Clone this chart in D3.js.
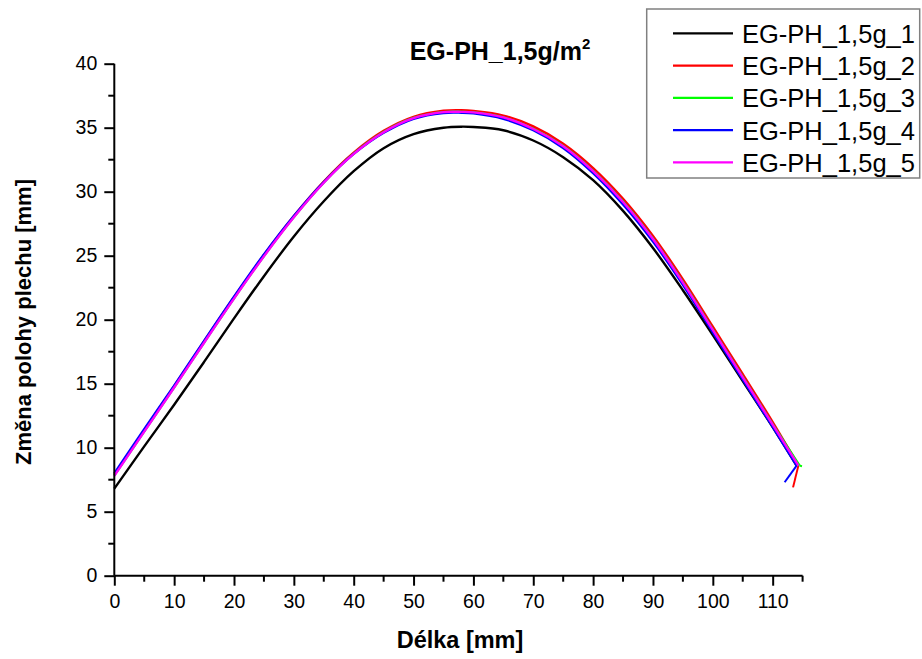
<!DOCTYPE html>
<html>
<head>
<meta charset="utf-8">
<script src="https://cdn.jsdelivr.net/npm/d3@7"></script>
<style>
  html, body { margin: 0; padding: 0; background: #fff; }
  svg { display: block; font-family: "Liberation Sans", Arial, sans-serif; }
</style>
</head>
<body>
<svg id="chart" width="922" height="659"></svg>
<script>
// ---------------- data ----------------
const titleMain = "EG-PH_1,5g/m";
const titleSup = "2";
const xLabel = "Délka [mm]";
const yLabel = "Změna polohy plechu [mm]";
const seriesNames = ["EG-PH_1,5g_1", "EG-PH_1,5g_2", "EG-PH_1,5g_3", "EG-PH_1,5g_4", "EG-PH_1,5g_5"];
const seriesColors = ["#000000", "#ff0000", "#00ff00", "#0000ff", "#ff00ff"];
const xTicks = [0, 10, 20, 30, 40, 50, 60, 70, 80, 90, 100, 110];
const yTicks = [0, 5, 10, 15, 20, 25, 30, 35, 40];

const lengthMm = [0, 5, 10, 15, 20, 25, 30, 35, 40, 45, 50, 55, 58, 60, 65, 70, 75, 80, 85, 90, 95, 100, 105, 110];

const series1 = [6.8, 10.1, 13.35, 16.7, 20.1, 23.4, 26.5, 29.25, 31.6, 33.4, 34.5, 35.0, 35.08, 35.05, 34.8, 34.0, 32.7, 30.9, 28.5, 25.6, 22.3, 18.8, 15.2, 11.6];
const series2 = [7.9, 11.35, 14.8, 18.3, 21.75, 25.05, 28.1, 30.8, 33.05, 34.75, 35.85, 36.32, 36.36, 36.3, 35.95, 35.1, 33.75, 31.85, 29.45, 26.55, 23.15, 19.45, 15.75, 12.0];
const series3 = [7.85, 11.28, 14.72, 18.22, 21.68, 24.98, 28.02, 30.72, 32.97, 34.66, 35.76, 36.22, 36.24, 36.2, 35.81, 34.92, 33.57, 31.63, 29.23, 26.33, 22.93, 19.23, 15.53, 11.83];
const series4 = [8.0, 11.45, 14.85, 18.35, 21.8, 25.1, 28.1, 30.75, 32.95, 34.6, 35.7, 36.15, 36.17, 36.12, 35.7, 34.8, 33.42, 31.45, 29.0, 26.1, 22.72, 19.02, 15.32, 11.62];
const series5 = [7.8, 11.25, 14.7, 18.2, 21.65, 24.95, 28.0, 30.7, 32.95, 34.65, 35.75, 36.22, 36.24, 36.2, 35.8, 34.9, 33.55, 31.6, 29.2, 26.3, 22.9, 19.2, 15.5, 11.8];

// final points of each record (x, y), including the short return tails
const ends1 = [[114.0, 8.6]];
const ends2 = [[114.3, 8.6], [113.4, 6.9]];
const ends3 = [[114.5, 8.6], [114.9, 8.55]];
const ends4 = [[114.0, 8.6], [112.0, 7.3]];
const ends5 = [[114.3, 8.6]];

const allSeries = [series1, series2, series3, series4, series5];
const allEnds = [ends1, ends2, ends3, ends4, ends5];

// ---------------- layout ----------------
const svg = d3.select("#chart");
svg.append("rect").attr("width", 922).attr("height", 659).attr("fill", "#fff");

const x = d3.scaleLinear().domain([0, 115]).range([114.3, 802.6]);
const y = d3.scaleLinear().domain([0, 40]).range([575.7, 63.7]);

// curves
const smooth = d3.line().x(d => x(d[0])).y(d => y(d[1])).curve(d3.curveCatmullRom.alpha(0.5));
const straight = d3.line().x(d => x(d[0])).y(d => y(d[1]));

const plot = svg.append("g");
allSeries.forEach((vals, i) => {
  const pts = lengthMm.map((lx, k) => [lx, vals[k]]);
  const ends = allEnds[i];
  pts.push(ends[0]);
  plot.append("path").attr("d", smooth(pts)).attr("fill", "none")
    .attr("stroke", seriesColors[i]).attr("stroke-width", 2.4).attr("stroke-linejoin", "round");
  if (ends.length > 1) {
    plot.append("path").attr("d", straight(ends)).attr("fill", "none")
      .attr("stroke", seriesColors[i]).attr("stroke-width", 2);
  }
});

// axes
const xAxis = svg.append("g").attr("transform", `translate(0,${y(0)})`)
  .call(d3.axisBottom(x).tickValues(xTicks).tickSize(10).tickPadding(8).tickFormat(d3.format("d")));
xAxis.select(".domain").attr("d", `M${x(0)},0H${x(115)}`).attr("stroke-width", 2);
xAxis.selectAll(".tick line").attr("stroke-width", 2);
xAxis.selectAll("text").attr("font-size", "19.5px").attr("fill", "#000")
  .attr("font-family", "'Liberation Sans', Arial, sans-serif");
xAxis.selectAll(".minor").data(d3.range(5, 116, 10)).enter().append("line")
  .attr("x1", d => x(d)).attr("x2", d => x(d)).attr("y1", 0).attr("y2", 6)
  .attr("stroke", "#000").attr("stroke-width", 2);

const yAxis = svg.append("g").attr("transform", `translate(${x(0)},0)`)
  .call(d3.axisLeft(y).tickValues(yTicks).tickSize(10).tickPadding(7).tickFormat(d3.format("d")));
yAxis.select(".domain").attr("d", `M0,${y(0)}V${y(40)}`).attr("stroke-width", 2);
yAxis.selectAll(".tick line").attr("stroke-width", 2);
yAxis.selectAll("text").attr("font-size", "19.5px").attr("fill", "#000")
  .attr("font-family", "'Liberation Sans', Arial, sans-serif");
yAxis.selectAll(".minor").data(d3.range(2.5, 40, 5)).enter().append("line")
  .attr("y1", d => y(d)).attr("y2", d => y(d)).attr("x1", 0).attr("x2", -6)
  .attr("stroke", "#000").attr("stroke-width", 2);

// titles
const t = svg.append("text").attr("x", 500).attr("y", 60).attr("text-anchor", "middle")
  .attr("font-size", "25px").attr("font-weight", "bold").attr("fill", "#000");
t.append("tspan").text(titleMain);
t.append("tspan").text(titleSup).attr("font-size", "15px").attr("dy", -11);

svg.append("text").attr("x", 460).attr("y", 648).attr("text-anchor", "middle")
  .attr("font-size", "23.5px").attr("font-weight", "bold").attr("fill", "#000").text(xLabel);

svg.append("text").attr("transform", "translate(31,322) rotate(-90)").attr("text-anchor", "middle")
  .attr("font-size", "22px").attr("font-weight", "bold").attr("fill", "#000").text(yLabel);

// legend
const lg = svg.append("g");
lg.append("rect").attr("x", 646.7).attr("y", 9).attr("width", 273).attr("height", 169)
  .attr("fill", "#fff").attr("stroke", "#808080").attr("stroke-width", 1.5);
seriesNames.forEach((name, i) => {
  const ry = 33.3 + 32.25 * i;
  lg.append("line").attr("x1", 673).attr("x2", 733).attr("y1", ry).attr("y2", ry)
    .attr("stroke", seriesColors[i]).attr("stroke-width", 2.2);
  lg.append("text").attr("x", 742).attr("y", ry + 9.5).attr("font-size", "25.5px")
    .attr("fill", "#000").text(name);
});
</script>
</body>
</html>
